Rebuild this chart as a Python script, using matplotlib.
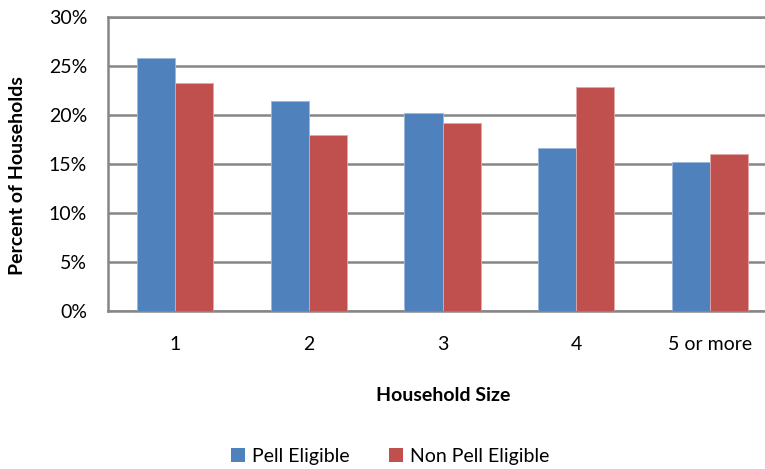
import matplotlib
matplotlib.use("Agg")
import matplotlib.pyplot as plt
import numpy as np
from matplotlib.ticker import FuncFormatter, MultipleLocator
from matplotlib.patches import Patch

categories = ["1", "2", "3", "4", "5 or more"]
pell = [0.258, 0.215, 0.202, 0.166, 0.152]
non_pell = [0.233, 0.180, 0.192, 0.229, 0.1605]
series_names = ["Pell Eligible", "Non Pell Eligible"]

blue = "#4F81BD"
red = "#C0504D"
grid_c = "#868686"
font = "Lato"

plt.rcParams["font.family"] = [font, "DejaVu Sans"]

fig = plt.figure(figsize=(7.65, 4.69), dpi=100)
W, H = 765, 469
ax = fig.add_axes([108 / W, 1 - 311 / H, (777 - 108) / W, (311 - 17.3) / H])

x = np.arange(len(categories))
bw = 0.285
ax.bar(x - bw / 2, pell, bw, color=blue, edgecolor="#9BB7DA", linewidth=0.6, zorder=3)
ax.bar(x + bw / 2, non_pell, bw, color=red, edgecolor="#E0A9A8", linewidth=0.6, zorder=3)

ax.set_xlim(-0.5, len(categories) - 0.5)
ax.set_ylim(0, 0.30)
ax.yaxis.set_major_locator(MultipleLocator(0.05))
ax.yaxis.set_major_formatter(FuncFormatter(lambda v, p: f"{v*100:.0f}%"))
ax.yaxis.grid(True, color=grid_c, linewidth=1.8, zorder=0)
ax.set_axisbelow(True)
for s in ["top", "left", "bottom"]:
    ax.spines[s].set_color(grid_c)
    ax.spines[s].set_linewidth(1.8)
ax.spines["right"].set_visible(False)

ax.set_xticks(x)
ax.set_xticklabels(categories)
ax.tick_params(axis="both", length=0, labelsize=14, colors="black")
ax.tick_params(axis="y", pad=15)
ax.tick_params(axis="x", pad=18)

fig.text(18 / W, 1 - 176 / H, "Percent of Households", rotation=90, ha="center", va="center",
         fontsize=14, fontweight="bold")
fig.text(443 / W, 1 - 395 / H, "Household Size", ha="center", va="center",
         fontsize=14, fontweight="bold")

handles = [Patch(facecolor=blue), Patch(facecolor=red)]
fig.legend(handles, series_names, loc="center", bbox_to_anchor=(390 / W, 1 - 456 / H),
           ncol=2, frameon=False, fontsize=14, handlelength=0.75, handleheight=0.75,
           handletextpad=0.35, columnspacing=2.0)

fig.savefig("out.png", dpi=100)
